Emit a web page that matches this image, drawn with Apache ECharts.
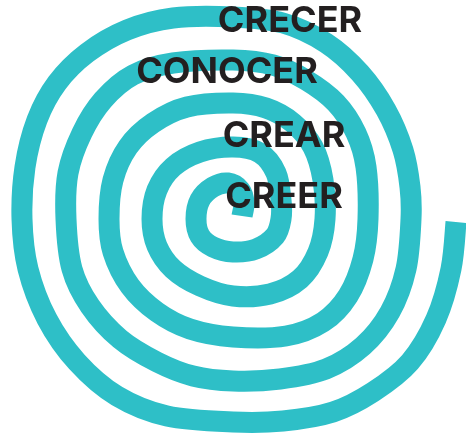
<!DOCTYPE html>
<html>
<head>
<meta charset="utf-8">
<title>Crecer</title>
<script src="https://cdn.jsdelivr.net/npm/echarts/dist/echarts.min.js"></script>
<style>
    html, body { margin: 0; padding: 0; background: #ffffff; }
    #spiralChart { width: 466px; height: 435px; }
</style>
</head>
<body>
<div id="spiralChart"></div>
<script>
const spiralX = [
    456, 451, 436, 410, 373, 333, 283, 233,
    167, 117, 77, 47, 28, 22,
    25, 37, 57, 87, 127, 173, 233,
    283, 326, 360, 386, 403, 410, 411,
    406, 390, 363, 326, 280, 233,
    193, 157, 120, 90, 72, 66,
    68, 82, 103, 133, 173, 233,
    273, 306, 336, 356, 366, 368,
    363, 348, 323, 286, 233,
    190, 157, 130, 113, 109,
    113, 128, 153, 187, 233,
    266, 293, 313, 323, 325,
    318, 300, 270, 233,
    200, 173, 157, 152,
    157, 173, 200, 233,
    260, 276, 281, 281,
    275, 256, 233,
    213, 200, 196,
    200, 213, 228, 240, 244, 242
];
const spiralY = [
    222, 269, 319, 362, 392, 412, 421, 422,
    416, 396, 362, 319, 269, 219,
    167, 120, 83, 53, 30, 18, 17,
    23, 43, 73, 110, 150, 187, 219,
    269, 312, 346, 369, 379, 381,
    376, 362, 339, 306, 269, 219,
    173, 133, 100, 75, 63, 60,
    65, 80, 103, 133, 167, 219,
    259, 296, 322, 336, 337,
    329, 312, 286, 252, 219,
    180, 147, 123, 107, 103,
    108, 123, 147, 180, 219,
    252, 279, 294, 296,
    286, 269, 246, 219,
    190, 167, 152, 147,
    153, 173, 200, 219,
    236, 249, 252,
    247, 236, 219,
    200, 187, 183, 190, 203, 216
];

const words = ['CRECER', 'CONOCER', 'CREAR', 'CREER'];
const wordX = [290, 227, 284, 284];
const wordY = [21, 72, 136, 197];

let spiralChart = echarts.init(document.getElementById('spiralChart'));

// catmull-rom through the projected points, written as svg path data
function splinePath(pts) {
    let d = 'M' + pts[0][0] + ' ' + pts[0][1];
    for (let i = 0; i < pts.length - 1; i++) {
        let p0 = pts[i > 0 ? i - 1 : i];
        let p1 = pts[i];
        let p2 = pts[i + 1];
        let p3 = pts[i + 2 < pts.length ? i + 2 : i + 1];
        let c1x = p1[0] + (p2[0] - p0[0]) / 6;
        let c1y = p1[1] + (p2[1] - p0[1]) / 6;
        let c2x = p2[0] - (p3[0] - p1[0]) / 6;
        let c2y = p2[1] - (p3[1] - p1[1]) / 6;
        d += 'C' + c1x + ' ' + c1y + ' ' + c2x + ' ' + c2y + ' ' + p2[0] + ' ' + p2[1];
    }
    return d;
}

function loadSpiral() {
    let spiralData = [];
    for (let i = 0; i < spiralX.length; i++) {
        spiralData.push([spiralX[i], spiralY[i]]);
    }
    let wordData = [];
    for (let i = 0; i < words.length; i++) {
        wordData.push([wordX[i], wordY[i], words[i]]);
    }

    let spiralOption = {
        animation: false,
        grid: {
            left: 0,
            right: 0,
            top: 0,
            bottom: 0
        },
        xAxis: {
            type: 'value',
            min: 0,
            max: 466,
            show: false
        },
        yAxis: {
            type: 'value',
            min: 0,
            max: 435,
            inverse: true,
            show: false
        },
        series: [
            {
                // line series smoothing clamps control points and flattens
                // the loops, so draw one spline path through the data instead
                name: 'spiral',
                type: 'custom',
                data: spiralData,
                renderItem: function (params, api) {
                    if (params.dataIndex !== 0) {
                        return;
                    }
                    let points = spiralData.map(function (d) {
                        return api.coord(d);
                    });
                    return {
                        type: 'path',
                        shape: {
                            pathData: splinePath(points),
                            layout: 'center'
                        },
                        style: {
                            fill: null,
                            stroke: '#2ebfc7',
                            lineWidth: 21,
                            lineCap: 'butt',
                            lineJoin: 'round'
                        }
                    };
                }
            },
            {
                name: 'words',
                type: 'scatter',
                data: wordData,
                symbolSize: 0,
                z: 5,
                itemStyle: {
                    opacity: 1
                },
                label: {
                    show: true,
                    position: 'inside',
                    formatter: function (p) {
                        return p.value[2];
                    },
                    color: '#231f20',
                    fontFamily: 'Inter',
                    fontWeight: 'bold',
                    fontSize: 36
                }
            }
        ]
    };
    spiralChart.setOption(spiralOption);
}

loadSpiral();
</script>
</body>
</html>
